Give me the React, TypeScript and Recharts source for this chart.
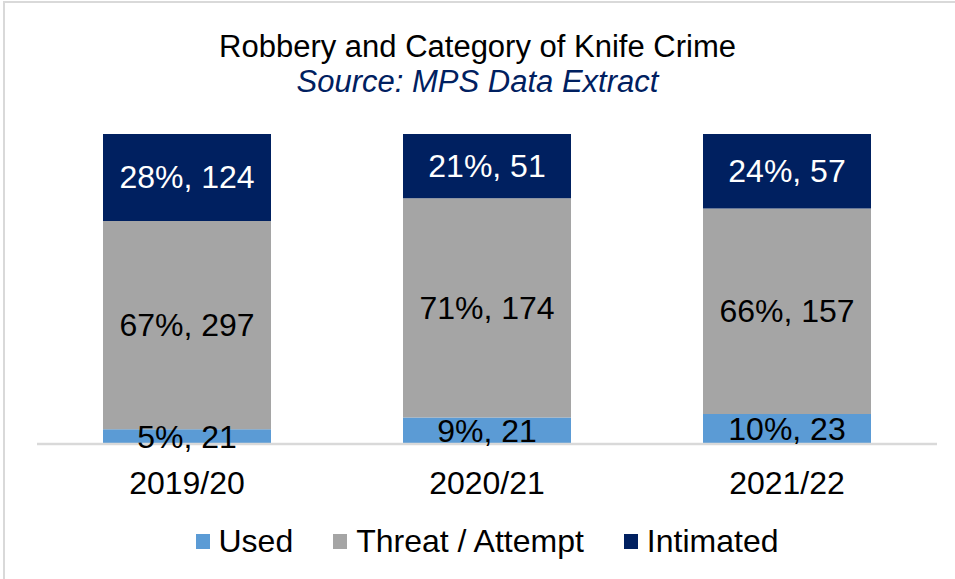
import { BarChart, Bar, XAxis, YAxis, Legend, LabelList } from "recharts";

const categories = ["2019/20", "2020/21", "2021/22"];
const usedValues = [21, 21, 23];
const threatValues = [297, 174, 157];
const intimatedValues = [124, 51, 57];

const seriesNames = ["Used", "Threat / Attempt", "Intimated"];
const seriesColors = ["#5B9BD5", "#A5A5A5", "#002060"];

const FONT = "'Liberation Sans', Arial, sans-serif";

const data = categories.map((name, i) => ({
    name,
    used: usedValues[i],
    threat: threatValues[i],
    intimated: intimatedValues[i],
    total: usedValues[i] + threatValues[i] + intimatedValues[i],
}));

const makeLabel = (fill: string) => (props: any) => {
    const { x, y, width, height, value, index } = props;
    const pct = Math.round((value / data[index].total) * 100);
    return (
        <text
            x={x + width / 2}
            y={y + height / 2}
            textAnchor="middle"
            dominantBaseline="central"
            fill={fill}
            fontSize={32}
            fontFamily={FONT}
        >
            {`${pct}%, ${value}`}
        </text>
    );
};

const renderLegend = () => (
    <div
        style={{
            display: "flex",
            justifyContent: "center",
            alignItems: "center",
            height: 40,
            fontFamily: FONT,
            fontSize: 32,
            color: "#000",
        }}
    >
        {seriesNames.map((n, i) => (
            <div key={n} style={{ display: "flex", alignItems: "center", marginRight: i < 2 ? 40 : 0 }}>
                <span
                    style={{
                        display: "inline-block",
                        width: 14,
                        height: 15,
                        background: seriesColors[i],
                        marginRight: 9,
                    }}
                />
                <span>{n}</span>
            </div>
        ))}
    </div>
);

export default function App() {
    return (
        <div style={{ position: "absolute", left: 0, top: 0, width: 955, height: 579, background: "#fff", overflow: "hidden" }}>
            <div
                style={{
                    position: "absolute",
                    left: 3,
                    top: 1,
                    width: 952,
                    height: 578,
                    borderTop: "2px solid #d9d9d9",
                    borderLeft: "2px solid #d9d9d9",
                    boxSizing: "border-box",
                }}
            />
            <div
                style={{
                    position: "absolute",
                    left: 0,
                    top: 29,
                    width: 955,
                    textAlign: "center",
                    fontFamily: FONT,
                    fontSize: 31,
                    lineHeight: "36px",
                    color: "#000",
                }}
            >
                Robbery and Category of Knife Crime
            </div>
            <div
                style={{
                    position: "absolute",
                    left: 0,
                    top: 64,
                    width: 955,
                    textAlign: "center",
                    fontFamily: FONT,
                    fontSize: 31,
                    fontStyle: "italic",
                    lineHeight: "36px",
                    color: "#002060",
                }}
            >
                Source: MPS Data Extract
            </div>
            <div style={{ position: "absolute", left: 0, top: 0 }}>
                <BarChart
                    width={955}
                    height={579}
                    data={data}
                    stackOffset="expand"
                    barCategoryGap="22%"
                    margin={{ top: 134, right: 18, bottom: 18, left: 37 }}
                >
                    <XAxis
                        dataKey="name"
                        axisLine={{ stroke: "#d9d9d9", strokeWidth: 2.5 }}
                        tickLine={false}
                        tickMargin={21}
                        height={77}
                        tick={{ fill: "#000", fontSize: 32, fontFamily: FONT }}
                    />
                    <YAxis hide domain={[0, 1]} />
                    <Legend verticalAlign="bottom" height={40} content={renderLegend} />
                    <Bar dataKey="used" name={seriesNames[0]} stackId="a" fill={seriesColors[0]} isAnimationActive={false}>
                        <LabelList dataKey="used" content={makeLabel("#000")} />
                    </Bar>
                    <Bar dataKey="threat" name={seriesNames[1]} stackId="a" fill={seriesColors[1]} isAnimationActive={false}>
                        <LabelList dataKey="threat" content={makeLabel("#000")} />
                    </Bar>
                    <Bar dataKey="intimated" name={seriesNames[2]} stackId="a" fill={seriesColors[2]} isAnimationActive={false}>
                        <LabelList dataKey="intimated" content={makeLabel("#fff")} />
                    </Bar>
                </BarChart>
            </div>
        </div>
    );
}
